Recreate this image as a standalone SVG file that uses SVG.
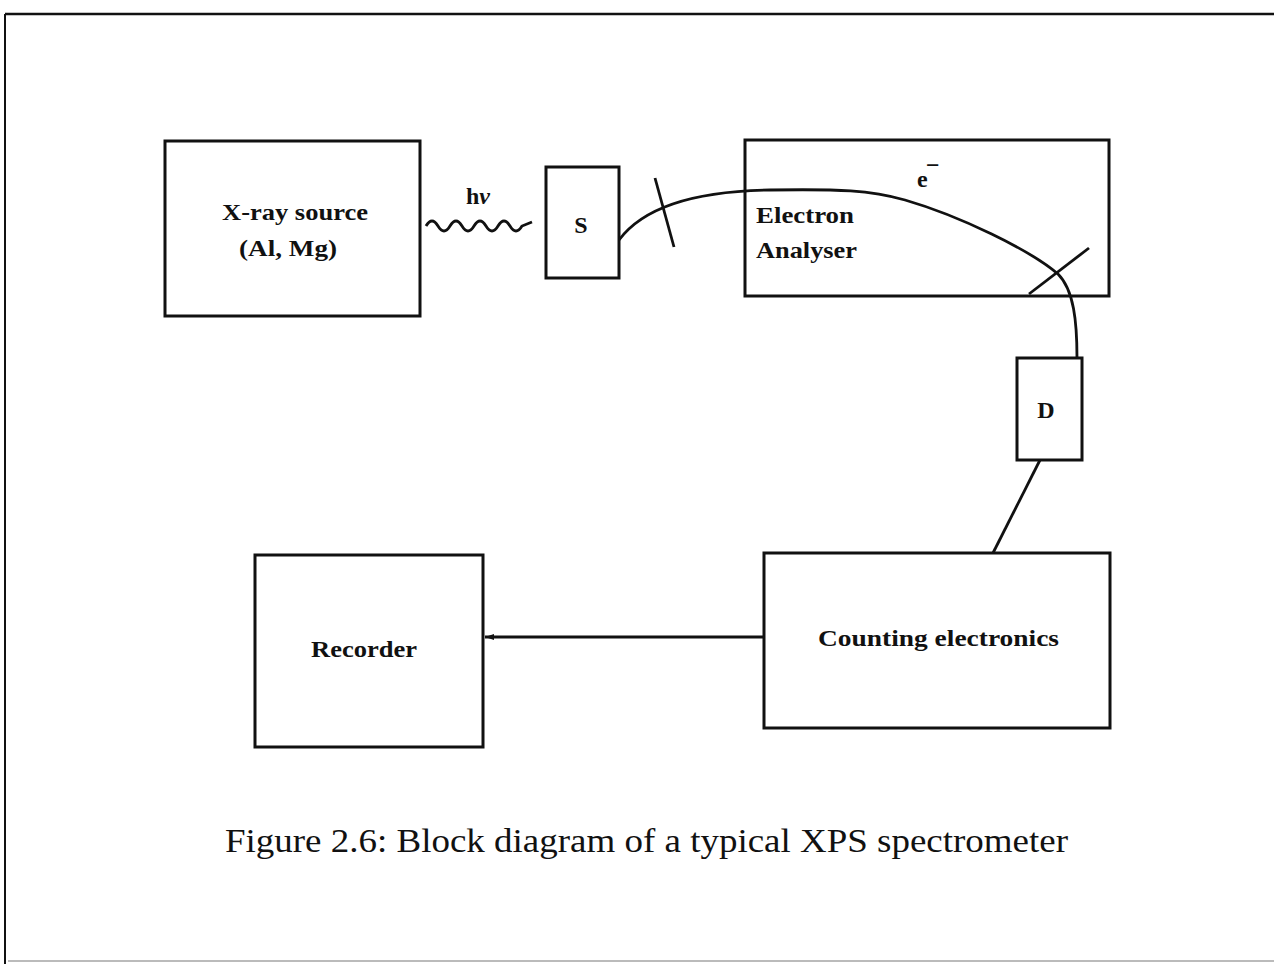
<svg xmlns="http://www.w3.org/2000/svg" width="1274" height="964" viewBox="0 0 1274 964">
<style>
.box{fill:none;stroke:#111;stroke-width:3}
.lbl{font-family:"Liberation Serif","DejaVu Serif",serif;font-weight:bold;font-size:24px;fill:#111}
.ln{fill:none;stroke:#111;stroke-width:2.8}
.cap{font-family:"Liberation Serif","Times New Roman",serif;font-size:33px;fill:#111}
</style>
<defs>
<marker id="arr" markerWidth="10" markerHeight="8" refX="9" refY="4" orient="auto" markerUnits="userSpaceOnUse">
<path d="M0,1 L9,4 L0,7 Z" fill="#111"/>
</marker>
</defs>
<rect width="1274" height="964" fill="#fff"/>
<g id="frame">
<path d="M5,14 L1274,14" stroke="#111" stroke-width="2.5" fill="none"/>
<path d="M5,14 L5,964" stroke="#111" stroke-width="2" fill="none"/>
<path d="M8,961 L1274,961" stroke="#bbb" stroke-width="2" fill="none"/>
</g>
<g id="xray">
<rect class="box" x="165" y="141" width="255" height="175"/>
<text class="lbl" x="222" y="220" textLength="146" lengthAdjust="spacingAndGlyphs">X-ray source</text>
<text class="lbl" x="239" y="256" textLength="98" lengthAdjust="spacingAndGlyphs">(Al, Mg)</text>
</g>
<g id="sample">
<rect class="box" x="546" y="167" width="73" height="111"/>
<text class="lbl" x="581" y="233" text-anchor="middle" font-size="26">S</text>
</g>
<g id="analyser">
<rect class="box" x="745" y="140" width="364" height="156"/>
<text class="lbl" x="756" y="223" textLength="98" lengthAdjust="spacingAndGlyphs">Electron</text>
<text class="lbl" x="756" y="258" textLength="101" lengthAdjust="spacingAndGlyphs">Analyser</text>
<text class="lbl" x="917" y="187">e</text>
<text class="lbl" x="926" y="173" font-size="16">−</text>
</g>
<g id="detector">
<rect class="box" x="1017" y="358" width="65" height="102"/>
<text class="lbl" x="1046" y="418" text-anchor="middle" font-size="26">D</text>
</g>
<g id="counting">
<rect class="box" x="764" y="553" width="346" height="175"/>
<text class="lbl" x="818" y="646" textLength="241" lengthAdjust="spacingAndGlyphs">Counting electronics</text>
</g>
<g id="recorder">
<rect class="box" x="255" y="555" width="228" height="192"/>
<text class="lbl" x="311" y="657" textLength="106" lengthAdjust="spacingAndGlyphs">Recorder</text>
</g>
<g id="connectors">
<path class="ln" d="M426,226 q6,-10 12,0 t12,0 t12,0 t12,0 t12,0 t12,0 t12,0 t12,0 l10,-4"/>
<text class="lbl" x="466" y="204">h<tspan font-style="italic">ν</tspan></text>
<path class="ln" d="M619,240 C645,205 700,191 770,190 C840,189 870,190 905,200 C960,216 1030,250 1058,274 C1074,290 1077,322 1077,358"/>
<path class="ln" d="M655,178 L674,247"/>
<path class="ln" d="M1029,294 L1089,248"/>
<path class="ln" d="M1040,460 L993,553"/>
<path class="ln" d="M764,637 L485,637" marker-end="url(#arr)"/>
</g>
<g id="caption">
<text class="cap" x="225" y="852" textLength="843" lengthAdjust="spacingAndGlyphs">Figure 2.6: Block diagram of a typical XPS spectrometer</text>
</g>
</svg>
